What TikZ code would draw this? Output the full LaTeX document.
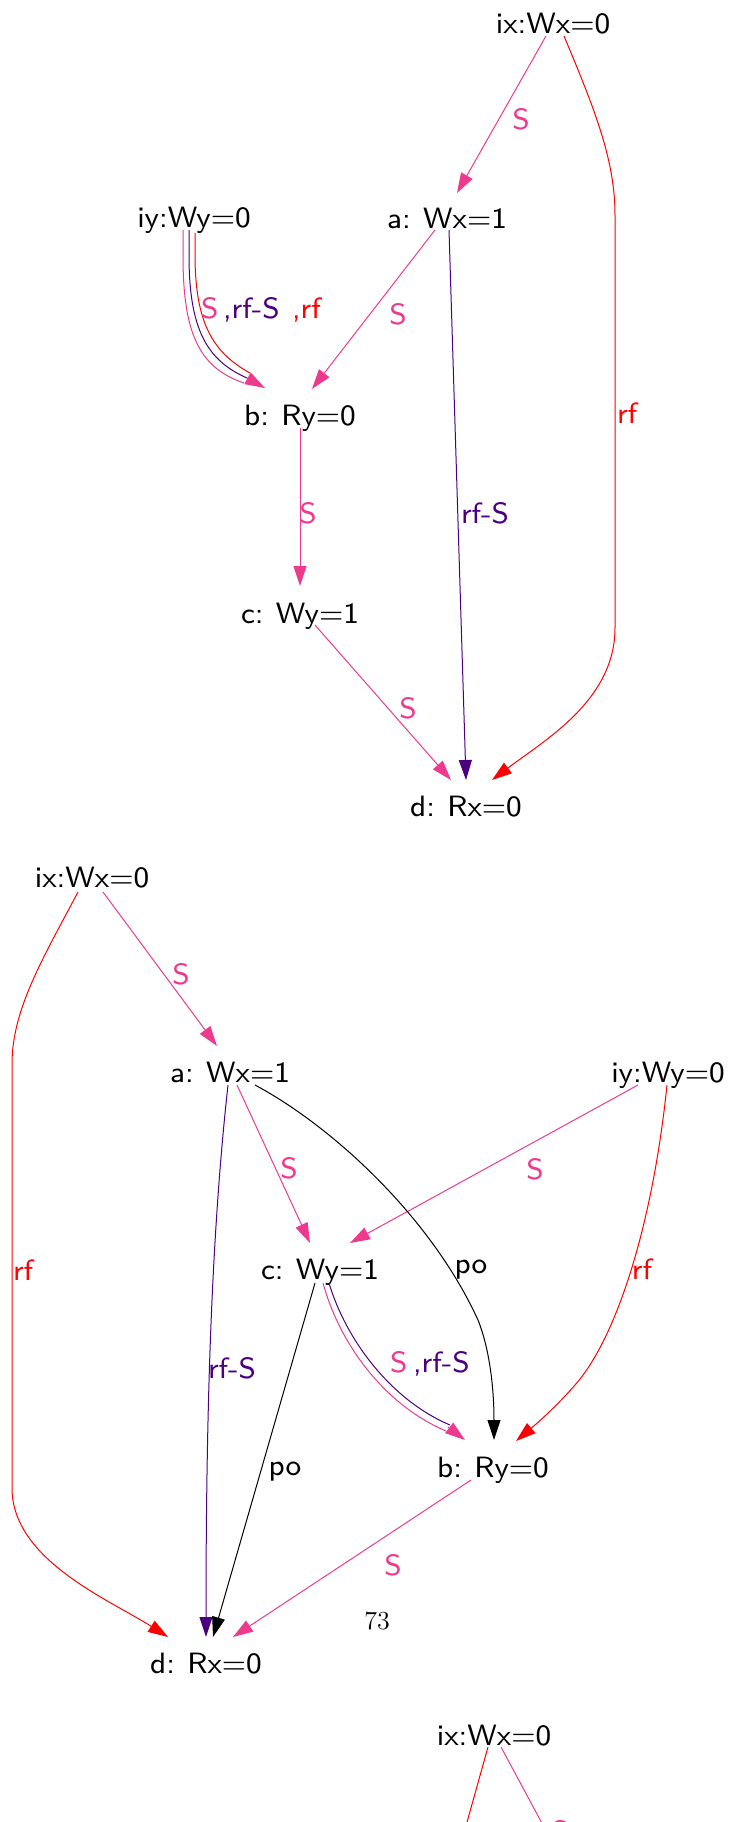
\documentclass[tikz,border=0pt]{standalone}
\usepackage{fontspec}
\newfontfamily\gvfont{lmsans8-regular.otf}
\usetikzlibrary{arrows.meta,calc}
\definecolor{cS}{HTML}{EE3A8C}
\definecolor{cRFS}{HTML}{4B0082}
\definecolor{cRF}{HTML}{FF0000}
\newcommand\gap{\hspace{0.42em}}
\tikzset{
  ev/.style={inner sep=0pt, outer sep=0pt, anchor=base, font=\gvfont\fontsize{14.7}{17}\selectfont},
  lbl/.style={inner sep=0pt, outer sep=0pt, font=\gvfont\fontsize{14.7}{17}\selectfont},
  tipend/.style={-{Triangle[length=10pt,width=6.5pt]}},
  eS/.style={color=cS, line width=0.5pt, tipend},
  eRFS/.style={color=cRFS, line width=0.5pt, tipend},
  eRF/.style={color=cRF, line width=0.5pt, tipend},
  ePO/.style={color=black, line width=0.5pt, tipend},
  plainS/.style={color=cS, line width=0.5pt},
  plainRFS/.style={color=cRFS, line width=0.5pt},
  plainRF/.style={color=cRF, line width=0.5pt},
}
\begin{document}
\begin{tikzpicture}[x=0.5pt, y=-0.5pt]
\useasboundingbox (0,0) rectangle (729,1822);
\clip (0,0) rectangle (729,1822);

% ---------------- Graph 1 ----------------
\node[ev] (ix1) at (553,33) {ix:Wx=0};
\node[ev] (a1)  at (447,228) {a:\gap Wx=1};
\node[ev] (iy1) at (194,227) {iy:Wy=0};
\node[ev] (b1)  at (300,425) {b:\gap Ry=0};
\node[ev] (c1)  at (300,623) {c:\gap Wy=1};
\node[ev] (d1)  at (466,816) {d:\gap Rx=0};

\draw[eS] ($(ix1.base)+(-7,3)$) -- ($(a1.base)+(10,-35)$)
  node[lbl, at={(521,119)}] {S};
\draw[eRF] ($(ix1.base)+(11,3)$) .. controls (595,110) and (615,160) .. (615,215)
  -- (615,628) .. controls (615,700) and (545,740) .. ($(d1.base)+(26,-36)$)
  node[lbl, anchor=west, at={(617,413)}] {rf};
\draw[eS] ($(a1.base)+(-12,2)$) -- ($(b1.base)+(12,-36)$)
  node[lbl, at={(398,314)}] {S};
\draw[eRFS] ($(a1.base)+(2,2)$) -- ($(d1.base)+(0,-36)$)
  node[lbl, anchor=west, at={(461,513)}] {rf-S};
% iy1 -> b1 : S, rf-S, rf
\draw[plainS] ($(iy1.base)+(-11,3)$) -- (183,256) .. controls (183,335) and (200,368) .. (244,383);
\draw[plainRF] ($(iy1.base)+(1,6)$) -- (195,254) .. controls (195,322) and (212,352) .. (250,373);
\draw[plainRFS] ($(iy1.base)+(-5,3)$) -- (189,255) .. controls (189,328) and (206,360) .. (247,378)
  node[lbl, anchor=base west, text=cS, at={(201,318)}] {S}
  node[lbl, anchor=base west, text=cRFS, at={(223,318)}] {,rf-S}
  node[lbl, anchor=base west, text=cRF, at={(292,318)}] {,rf};
\draw[eS] (247,378) -- ($(b1.base)+(-35,-37)$);
\draw[eS] ($(b1.base)+(0,3)$) -- ($(c1.base)+(0,-37)$)
  node[lbl, at={(308,513)}] {S};
\draw[eS] ($(c1.base)+(15,2)$) -- ($(d1.base)+(-15,-36)$)
  node[lbl, at={(408,708)}] {S};

% ---------------- Graph 2 ----------------
\node[ev] (ix2) at (92,887) {ix:Wx=0};
\node[ev] (a2)  at (230,1082) {a:\gap Wx=1};
\node[ev] (iy2) at (668,1082) {iy:Wy=0};
\node[ev] (c2)  at (320,1279) {c:\gap Wy=1};
\node[ev] (b2)  at (493,1477) {b:\gap Ry=0};
\node[ev] (d2)  at (206,1673) {d:\gap Rx=0};

\draw[eS] ($(ix2.base)+(11,5)$) -- ($(a2.base)+(-13,-36)$)
  node[lbl, at={(181,974)}] {S};
\draw[eRF] ($(ix2.base)+(-14,5)$) .. controls (42,960) and (12,1010) .. (12,1064)
  -- (12,1488) .. controls (12,1560) and (110,1600) .. ($(d2.base)+(-38,-36)$)
  node[lbl, anchor=west, at={(13,1270)}] {rf};
\draw[eS] ($(a2.base)+(7,3)$) -- ($(c2.base)+(-10,-36)$)
  node[lbl, at={(289,1168)}] {S};
\draw[eS] ($(iy2.base)+(-30,3)$) -- ($(c2.base)+(30,-36)$)
  node[lbl, at={(535,1169)}] {S};
\draw[ePO] ($(a2.base)+(25,3)$) .. controls (330,1125) and (430,1215) .. (478,1320)
  .. controls (490,1350) and (494,1390) .. ($(b2.base)+(1,-37)$)
  node[lbl, at={(471,1270)}] {po};
\draw[eRF] ($(iy2.base)+(-1,3)$) .. controls (652,1230) and (615,1340) .. (575,1385)
  .. controls (555,1408) and (535,1425) .. ($(b2.base)+(23,-36)$)
  node[lbl, at={(642,1269)}] {rf};
\draw[eRFS] ($(a2.base)+(-2,3)$) .. controls (212,1230) and (206,1400) .. ($(d2.base)+(0,-36)$)
  node[lbl, anchor=west, at={(208,1368)}] {rf-S};
% c2 -> b2 : S, rf-S
\draw[plainS] ($(c2.base)+(3,4)$) .. controls (340,1345) and (385,1405) .. (446,1431);
\draw[plainRFS] ($(c2.base)+(9,4)$) .. controls (346,1340) and (391,1400) .. (450,1425)
  node[lbl, anchor=base west, text=cS, at={(390,1372)}] {S}
  node[lbl, anchor=base west, text=cRFS, at={(413,1372)}] {,rf-S};
\draw[eS] (448,1427) -- ($(b2.base)+(-28,-37)$);
\draw[ePO] ($(c2.base)+(-5,4)$) -- ($(d2.base)+(7,-36)$)
  node[lbl, at={(285,1472)}] {po};
\draw[eS] ($(b2.base)+(-22,3)$) -- ($(d2.base)+(27,-36)$)
  node[lbl, at={(393,1565)}] {S};

\node[inner sep=0pt, font=\fontsize{13}{15}\selectfont] (pg) at (377,1621) {73};

% ---------------- Graph 3 (cut off) ----------------
\node[ev] (ix3) at (494,1745) {ix:Wx=0};
\coordinate (r3) at (462,1840);
\coordinate (p3) at (551,1840);
\draw[plainRF] ($(ix3.base)+(-6,2)$) -- (r3);
\draw[plainS] ($(ix3.base)+(7,2)$) -- (p3)
  node[lbl, at={(560,1831)}] {S};
\end{tikzpicture}
\end{document}
